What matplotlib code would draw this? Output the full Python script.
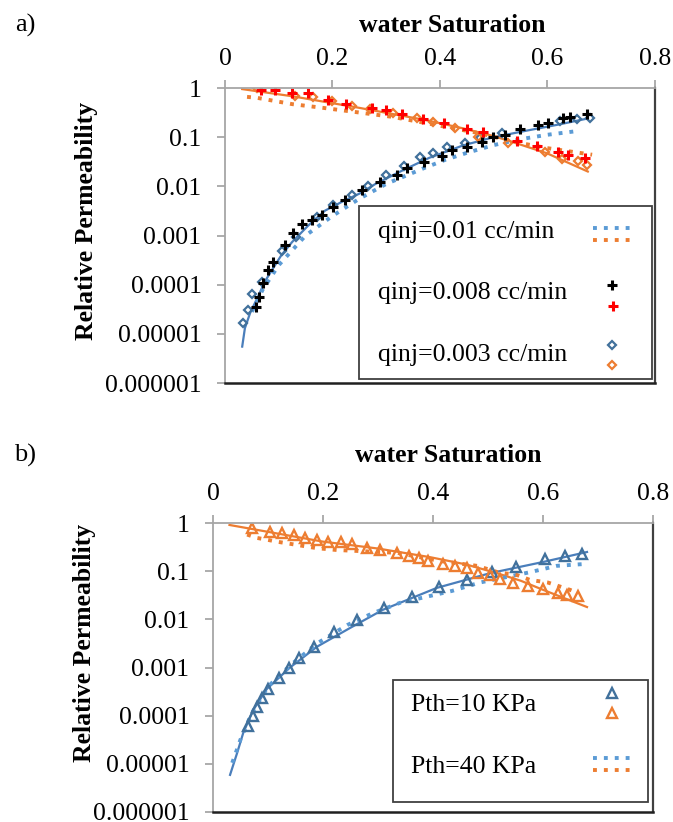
import matplotlib
matplotlib.use('Agg')
import matplotlib.pyplot as plt
from matplotlib.lines import Line2D
from matplotlib.patches import Rectangle
from matplotlib.transforms import Affine2D

plt.rcParams['font.family'] = ['Liberation Serif', 'DejaVu Serif']

W, H = 673, 822

# ---------------- panel a) data ----------------
sw_fit_w_a = [0.032, 0.037, 0.047, 0.061, 0.075, 0.09, 0.105, 0.125, 0.155, 0.186, 0.22, 0.25,
              0.28, 0.33, 0.38, 0.443, 0.50, 0.56, 0.62, 0.675]
krw_fit_a = [5.5e-6, 1.3e-5, 2.7e-5, 5.6e-5, 1.2e-4, 2.2e-4, 4.0e-4, 7.4e-4, 1.6e-3, 3.2e-3, 5.0e-3,
             7.1e-3, 0.0112, 0.021, 0.038, 0.068, 0.10, 0.135, 0.18, 0.24]
sw_fit_o_a = [0.032, 0.125, 0.247, 0.372, 0.443, 0.50, 0.536, 0.599, 0.675]
kro_fit_a = [0.95, 0.68, 0.40, 0.224, 0.151, 0.105, 0.079, 0.047, 0.020]

# qinj = 0.01 cc/min (dotted)
sw_q01_w = [0.05, 0.07, 0.1, 0.15, 0.2, 0.25, 0.3, 0.37, 0.41, 0.45, 0.5, 0.55, 0.6, 0.66]
krw_q01 = [2.8e-5, 7.9e-5, 2.5e-4, 1.0e-3, 2.5e-3, 5.6e-3, 0.0112, 0.0234, 0.0347, 0.048,
           0.069, 0.091, 0.112, 0.135]
sw_q01_o = [0.041, 0.06, 0.125, 0.186, 0.247, 0.31, 0.372, 0.474, 0.536, 0.599, 0.683]
kro_q01 = [0.66, 0.63, 0.47, 0.39, 0.32, 0.26, 0.195, 0.12, 0.081, 0.060, 0.044]

# qinj = 0.008 cc/min (plus)
sw_q008_w = [0.058, 0.063, 0.071, 0.080, 0.089, 0.112, 0.127, 0.143, 0.162, 0.180, 0.201, 0.223,
             0.255, 0.288, 0.320, 0.339, 0.370, 0.404, 0.422, 0.450, 0.478, 0.499, 0.521, 0.549,
             0.582, 0.601, 0.629, 0.642, 0.673]
krw_q008 = [3.5e-5, 5.6e-5, 1.1e-4, 2.0e-4, 2.9e-4, 6.5e-4, 1.1e-3, 1.7e-3, 2.1e-3, 2.6e-3, 3.8e-3,
            5.2e-3, 8.5e-3, 0.0123, 0.017, 0.0234, 0.0316, 0.0417, 0.055, 0.063, 0.079, 0.10, 0.11,
            0.148, 0.178, 0.195, 0.245, 0.257, 0.295]
sw_q008_o = [0.067, 0.093, 0.125, 0.154, 0.192, 0.225, 0.273, 0.300, 0.329, 0.368, 0.407, 0.450,
             0.480, 0.543, 0.580, 0.619, 0.638, 0.670]
kro_q008 = [0.91, 0.91, 0.79, 0.79, 0.57, 0.47, 0.39, 0.35, 0.30, 0.23, 0.19, 0.15, 0.13, 0.083,
            0.066, 0.050, 0.044, 0.038]

# qinj = 0.003 cc/min (diamonds)
sw_q003_w = [0.033, 0.043, 0.050, 0.069, 0.106, 0.132, 0.171, 0.201, 0.236, 0.266, 0.300, 0.333,
             0.363, 0.387, 0.413, 0.447, 0.474, 0.515, 0.623, 0.655, 0.679]
krw_q003 = [1.7e-5, 3.1e-5, 6.5e-5, 1.15e-4, 4.9e-4, 9.3e-4, 2.4e-3, 4.2e-3, 6.8e-3, 0.0102, 0.017,
            0.0257, 0.040, 0.048, 0.063, 0.076, 0.095, 0.123, 0.21, 0.23, 0.25]
sw_q003_o = [0.060, 0.130, 0.164, 0.199, 0.236, 0.270, 0.313, 0.357, 0.387, 0.428, 0.471, 0.527,
             0.595, 0.627, 0.657, 0.673]
kro_q003 = [1.0, 0.69, 0.66, 0.55, 0.43, 0.37, 0.31, 0.245, 0.20, 0.155, 0.10, 0.076, 0.050, 0.036,
            0.032, 0.027]

# ---------------- panel b) data ----------------
sw_fit_w_b = [0.031, 0.044, 0.055, 0.073, 0.098, 0.14, 0.189, 0.249, 0.309, 0.407, 0.504, 0.6, 0.68]
krw_fit_b = [5.9e-6, 1.7e-5, 4.4e-5, 1.3e-4, 3.6e-4, 1.0e-3, 2.7e-3, 6.6e-3, 0.0158, 0.045, 0.091,
             0.155, 0.25]
sw_fit_o_b = [0.03, 0.2, 0.3, 0.395, 0.46, 0.516, 0.56, 0.6, 0.68]
kro_fit_b = [0.91, 0.41, 0.295, 0.195, 0.138, 0.091, 0.063, 0.041, 0.018]

# Pth = 10 KPa (triangles)
sw_p10_w = [0.064, 0.073, 0.080, 0.089, 0.100, 0.120, 0.138, 0.156, 0.184, 0.220, 0.262, 0.311,
            0.362, 0.411, 0.462, 0.507, 0.551, 0.604, 0.640, 0.671]
krw_p10 = [6.2e-5, 1.0e-4, 1.5e-4, 2.3e-4, 3.6e-4, 6.0e-4, 9.8e-4, 1.6e-3, 2.7e-3, 5.5e-3, 9.8e-3,
           0.0174, 0.029, 0.047, 0.066, 0.095, 0.123, 0.178, 0.209, 0.229]
sw_p10_o = [0.071, 0.104, 0.125, 0.147, 0.167, 0.189, 0.209, 0.233, 0.253, 0.280, 0.304, 0.335,
            0.356, 0.375, 0.391, 0.418, 0.440, 0.462, 0.482, 0.504, 0.522, 0.545, 0.573, 0.600,
            0.627, 0.644, 0.664]
kro_p10 = [0.79, 0.65, 0.62, 0.56, 0.49, 0.45, 0.41, 0.41, 0.36, 0.30, 0.275, 0.24, 0.21, 0.19,
           0.16, 0.14, 0.13, 0.117, 0.091, 0.083, 0.069, 0.058, 0.049, 0.043, 0.035, 0.032, 0.031]

# Pth = 40 KPa (dotted)
sw_p40_w = [0.035, 0.05, 0.07, 0.1, 0.14, 0.19, 0.244, 0.291, 0.34, 0.435, 0.485, 0.535, 0.576,
            0.625, 0.676]
krw_p40 = [1.05e-5, 3.2e-5, 1.1e-4, 4.0e-4, 1.1e-3, 3.2e-3, 7.6e-3, 0.0135, 0.022, 0.039, 0.058,
           0.076, 0.095, 0.129, 0.141]
sw_p40_o = [0.062, 0.08, 0.098, 0.116, 0.153, 0.189, 0.225, 0.262, 0.335, 0.413, 0.48, 0.518,
            0.553, 0.576, 0.609, 0.649, 0.664]
kro_p40 = [0.575, 0.49, 0.45, 0.41, 0.35, 0.30, 0.275, 0.263, 0.24, 0.162, 0.129, 0.095, 0.083,
           0.066, 0.058, 0.041, 0.035]

x_ticks = [0, 0.2, 0.4, 0.6, 0.8]
x_labels = ['0', '0.2', '0.4', '0.6', '0.8']
y_ticks = [1, 0.1, 0.01, 0.001, 0.0001, 0.00001, 0.000001]
y_labels = ['1', '0.1', '0.01', '0.001', '0.0001', '0.00001', '0.000001']

BLUE = '#4a7ebb'
BLUE_DOT = '#5b9bd5'
BLUE_MK = '#41719c'
ORANGE = '#ed7d31'
FS = 18.5
DOTTED = (0, (1, 1.8))

fig = plt.figure(figsize=(W / 100, H / 100), dpi=100)
# pixel coordinates (y downwards) -> figure
px = Affine2D().scale(1 / W, -1 / H).translate(0, 1) + fig.transFigure


def make_axes(left, top, right, bottom):
    ax = fig.add_axes([left / W, 1 - bottom / H, (right - left) / W, (bottom - top) / H])
    ax.set_yscale('log')
    ax.set_xlim(0, 0.8)
    ax.set_ylim(1e-6, 1)
    ax.xaxis.tick_top()
    ax.set_xticks(x_ticks)
    ax.set_xticklabels(x_labels, fontsize=FS)
    ax.set_yticks(y_ticks)
    ax.set_yticklabels(y_labels, fontsize=FS)
    ax.yaxis.set_minor_locator(matplotlib.ticker.NullLocator())
    ax.tick_params(axis='x', direction='out', length=6, width=1.2, color='#a0a0a0', pad=7)
    ax.tick_params(axis='y', direction='out', length=6, width=1.2, color='#a0a0a0', pad=11)
    ax.spines['left'].set_color('#a6a6a6')
    ax.spines['top'].set_color('#a6a6a6')
    ax.spines['left'].set_linewidth(1.3)
    ax.spines['top'].set_linewidth(1.3)
    ax.spines['right'].set_color('#404040')
    ax.spines['bottom'].set_color('#202020')
    ax.spines['right'].set_linewidth(1.6)
    ax.spines['bottom'].set_linewidth(1.8)
    return ax


def dotted(ax, x, y, c):
    ax.plot(x, y, color=c, lw=2.8, linestyle=DOTTED, dash_capstyle='butt')


# ---------------- panel a) ----------------
ax1 = make_axes(225, 88, 655, 383)
ax1.plot(sw_fit_w_a, krw_fit_a, color=BLUE, lw=1.6)
ax1.plot(sw_fit_o_a, kro_fit_a, color=ORANGE, lw=1.6)
dotted(ax1, sw_q01_w, krw_q01, BLUE_DOT)
dotted(ax1, sw_q01_o, kro_q01, ORANGE)
ax1.plot(sw_q003_w, krw_q003, 'D', ms=4.5, mfc='none', mec=BLUE_MK, mew=1.6)
ax1.plot(sw_q003_o, kro_q003, 'D', ms=4.5, mfc='none', mec=ORANGE, mew=1.6)
ax1.plot(sw_q008_w, krw_q008, '+', ms=7, mec='black', mew=2.2)
ax1.plot(sw_q008_o, kro_q008, '+', ms=7, mec='red', mew=2.2)

# ---------------- panel b) ----------------
ax2 = make_axes(213, 523, 653, 812)
ax2.plot(sw_fit_w_b, krw_fit_b, color=BLUE, lw=1.6)
ax2.plot(sw_fit_o_b, kro_fit_b, color=ORANGE, lw=1.6)
dotted(ax2, sw_p40_w, krw_p40, BLUE_DOT)
dotted(ax2, sw_p40_o, kro_p40, ORANGE)
ax2.plot(sw_p10_w, krw_p10, '^', ms=6.5, mfc='none', mec=BLUE_MK, mew=1.7)
ax2.plot(sw_p10_o, kro_p10, '^', ms=6.5, mfc='none', mec=ORANGE, mew=1.7)

# ---------------- titles / labels ----------------
fig.text(25, 25, 'a)', transform=px, fontsize=19, ha='center', va='center')
fig.text(25, 455, 'b)', transform=px, fontsize=19, ha='center', va='center')
fig.text(452, 25, 'water Saturation', transform=px, fontsize=FS, fontweight='bold',
         ha='center', va='center')
fig.text(448, 455, 'water Saturation', transform=px, fontsize=FS, fontweight='bold',
         ha='center', va='center')
fig.text(87, 221, 'Relative Permeability', transform=px, fontsize=FS, fontweight='bold',
         rotation=90, ha='center', va='center')
fig.text(84, 643, 'Relative Permeability', transform=px, fontsize=FS, fontweight='bold',
         rotation=90, ha='center', va='center')


# ---------------- legends (drawn by hand, Excel style) ----------------
def legend_box(x0, y0, x1, y1):
    fig.add_artist(Rectangle((x0, y0), x1 - x0, y1 - y0, transform=px, fill=True,
                             facecolor='white', edgecolor='#404040', lw=1.3, zorder=5))


def legend_dots(y, c):
    fig.add_artist(Line2D([593, 630], [y, y], transform=px, color=c, lw=2.8,
                          linestyle=DOTTED, dash_capstyle='butt', zorder=6))


def legend_mark(x, y, m, c, ms, mew):
    fig.add_artist(Line2D([x], [y], transform=px, marker=m, ms=ms, mfc='none', mec=c,
                          mew=mew, linestyle='none', zorder=6))


legend_box(359, 206, 652, 379)
fig.text(378, 232, 'qinj=0.01 cc/min', transform=px, fontsize=FS, va='center', zorder=6)
fig.text(378, 293, 'qinj=0.008 cc/min', transform=px, fontsize=FS, va='center', zorder=6)
fig.text(378, 355, 'qinj=0.003 cc/min', transform=px, fontsize=FS, va='center', zorder=6)
legend_dots(228, BLUE_DOT)
legend_dots(240, ORANGE)
legend_mark(612, 285, '+', 'black', 7, 2.2)
legend_mark(613, 306, '+', 'red', 7, 2.2)
legend_mark(612, 345, 'D', BLUE_MK, 4.5, 1.6)
legend_mark(612, 365, 'D', ORANGE, 4.5, 1.6)

legend_box(393, 680, 648, 802)
fig.text(411, 705, 'Pth=10 KPa', transform=px, fontsize=FS, va='center', zorder=6)
fig.text(411, 767, 'Pth=40 KPa', transform=px, fontsize=FS, va='center', zorder=6)
legend_mark(612, 693, '^', BLUE_MK, 6.5, 1.7)
legend_mark(612, 713, '^', ORANGE, 6.5, 1.7)
legend_dots(758, BLUE_DOT)
legend_dots(770, ORANGE)

fig.savefig('out.png', dpi=100)
